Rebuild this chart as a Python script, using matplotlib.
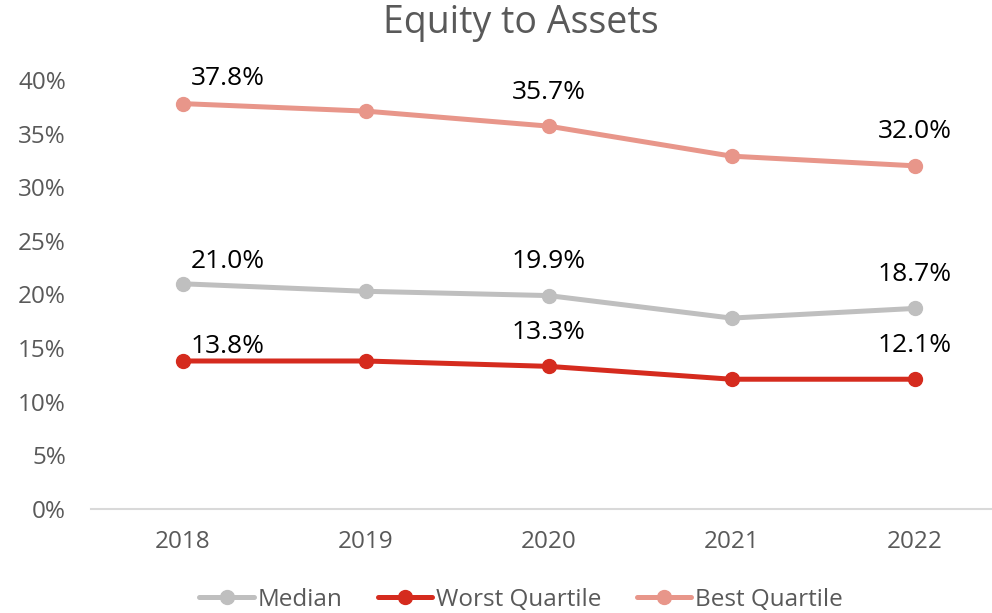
import matplotlib
matplotlib.use("Agg")
import matplotlib.pyplot as plt
from matplotlib.ticker import FuncFormatter

plt.rcParams['font.family'] = ['Open Sans', 'DejaVu Sans']

years = ['2018', '2019', '2020', '2021', '2022']
median = [21.0, 20.3, 19.9, 17.8, 18.7]
worst = [13.8, 13.8, 13.3, 12.1, 12.1]
best = [37.8, 37.1, 35.7, 32.9, 32.0]
labelled = [0, 2, 4]

series = [
    ('Median', median, '#BFBFBF'),
    ('Worst Quartile', worst, '#D52B1E'),
    ('Best Quartile', best, '#E8968A'),
]

fig = plt.figure(figsize=(9.92, 6.13), dpi=100)
ax = fig.add_axes([91 / 992, 104 / 613, 915 / 992, 429 / 613])

x = list(range(len(years)))
for name, vals, col in series:
    ax.plot(x, vals, color=col, lw=3.6, marker='o', ms=10, label=name,
            solid_capstyle='round', clip_on=False, zorder=3)

# data labels
first_dy = {'Median': 22, 'Worst Quartile': 14, 'Best Quartile': 25}
for name, vals, col in series:
    for i in labelled:
        if i == 0:
            ax.annotate(f'{vals[i]:.1f}%', (x[i], vals[i]), xytext=(8, first_dy[name]),
                        textcoords='offset pixels', ha='left', va='center',
                        fontsize=19, color='#000000')
        else:
            ax.annotate(f'{vals[i]:.1f}%', (x[i], vals[i]), xytext=(0, 34),
                        textcoords='offset pixels', ha='center', va='center',
                        fontsize=19, color='#000000')

ax.set_xlim(-0.5, len(years) - 0.5)
ax.set_ylim(0, 40)
ax.set_yticks(range(0, 41, 5))
ax.yaxis.set_major_formatter(FuncFormatter(lambda v, p: f'{v:.0f}%'))
ax.set_xticks(x)
ax.set_xticklabels(years)

for s in ['top', 'right', 'left']:
    ax.spines[s].set_visible(False)
ax.spines['bottom'].set_color('#D9D9D9')
ax.spines['bottom'].set_linewidth(1.5)
ax.tick_params(axis='both', length=0, labelsize=17.5, colors='#595959')
ax.tick_params(axis='y', pad=18)
ax.tick_params(axis='x', pad=15)

fig.text(521 / 992, 1 - 23 / 613, 'Equity to Assets', ha='center', va='center',
         fontsize=27, color='#595959')

leg = fig.legend(loc='center', bbox_to_anchor=(521 / 992, 13 / 613), ncol=3, frameon=False,
                 fontsize=17.5, handlelength=2.25, handletextpad=0.15, columnspacing=1.45,
                 borderaxespad=0, borderpad=0)
for t in leg.get_texts():
    t.set_color('#595959')

fig.savefig('out.png', dpi=100)
